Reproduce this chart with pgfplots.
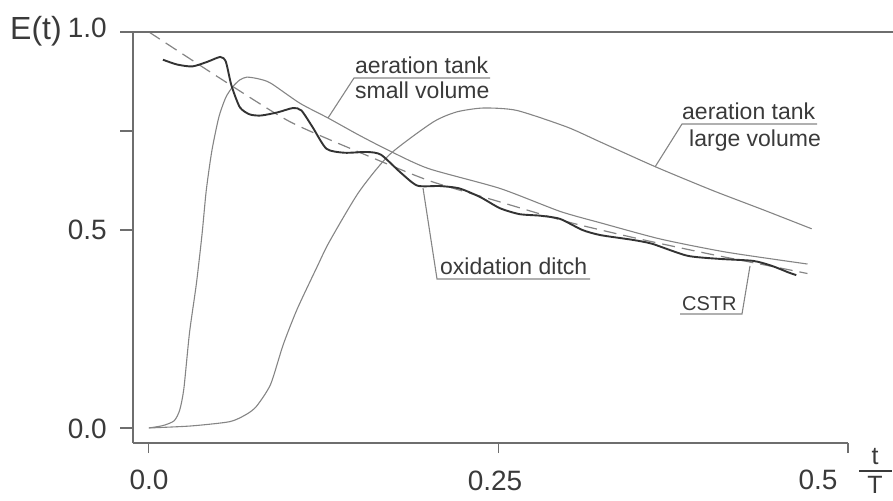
\documentclass[border=0pt]{standalone}
\usepackage{pgfplots}
\pgfplotsset{compat=1.18}
\usepackage{fontspec}
\setmainfont{Liberation Sans}
\definecolor{txtgray}{HTML}{3A3A3A}
\definecolor{framegray}{HTML}{6E6E6E}
\definecolor{curvegray}{HTML}{858585}
\definecolor{ditchgray}{HTML}{333333}
\begin{document}
\begin{tikzpicture}
\begin{axis}[
  scale only axis, width=715bp, height=411bp,
  at={(133bp,58bp)}, anchor=south west,
  xmin=-0.0114, xmax=0.5, ymin=-0.038, ymax=1.0,
  axis x line*=bottom, axis y line*=left,
  axis line style={framegray, line width=1.3bp},
  xtick={0,0.25,0.5}, ytick={0,0.5,0.75,1},
  xticklabels={}, yticklabels={},
  tick align=outside,
  xtick style={framegray, line width=1.1bp, /pgfplots/major tick length=10bp},
  ytick style={framegray, line width=1.1bp, /pgfplots/major tick length=13bp},
  clip=false,
]
% CSTR (dashed)
\addplot[color=curvegray, line width=1.2bp, dash pattern=on 13bp off 7bp, smooth, tension=0.4] coordinates {
(0,1.0) (0.05,0.885) (0.1,0.775) (0.15,0.697) (0.2,0.625) (0.25,0.572) (0.3,0.52) (0.35,0.478) (0.4,0.44) (0.45,0.405) (0.471,0.39)};
% aeration tank, large volume
\addplot[color=curvegray, line width=1.1bp, smooth, tension=0.4] coordinates {
(0,0) (0.03,0.005) (0.058,0.016) (0.07,0.035) (0.077,0.055) (0.087,0.11) (0.096,0.21) (0.106,0.30) (0.12,0.405) (0.129,0.47) (0.15,0.595) (0.172,0.69) (0.203,0.772) (0.22,0.798) (0.239,0.808) (0.263,0.802) (0.299,0.76) (0.323,0.722) (0.362,0.66) (0.403,0.60) (0.44,0.55) (0.474,0.503)};
% aeration tank, small volume
\addplot[color=curvegray, line width=1.1bp, smooth, tension=0.4] coordinates {
(0,0) (0.01,0.006) (0.018,0.018) (0.022,0.045) (0.025,0.1) (0.029,0.24) (0.034,0.366) (0.038,0.49) (0.041,0.60) (0.045,0.70) (0.05,0.785) (0.055,0.835) (0.06,0.862) (0.065,0.879) (0.07,0.886) (0.078,0.882) (0.087,0.871) (0.108,0.82) (0.128,0.783) (0.15,0.74) (0.172,0.70) (0.2,0.655) (0.251,0.605) (0.294,0.547) (0.323,0.518) (0.366,0.477) (0.413,0.444) (0.471,0.414)};
% oxidation ditch
\addplot[color=ditchgray, line width=1.9bp, smooth, tension=0.4] coordinates {
(0.01,0.93) (0.02,0.918) (0.031,0.913) (0.042,0.925) (0.051,0.937) (0.055,0.925) (0.059,0.865) (0.065,0.81) (0.072,0.792) (0.08,0.789) (0.092,0.797) (0.103,0.808) (0.109,0.802) (0.117,0.76) (0.127,0.705) (0.14,0.695) (0.156,0.697) (0.166,0.69) (0.18,0.645) (0.192,0.612) (0.208,0.611) (0.222,0.605) (0.237,0.583) (0.251,0.555) (0.265,0.54) (0.28,0.536) (0.294,0.528) (0.31,0.50) (0.323,0.487) (0.346,0.475) (0.36,0.465) (0.385,0.435) (0.408,0.427) (0.432,0.422) (0.445,0.41) (0.458,0.392) (0.463,0.386)};
\end{axis}
\begin{scope}[shift={(0,501bp)}, x=1bp, y=-1bp, color=txtgray]
  % top frame line
  \draw[framegray, line width=1.3bp] (120,32) -- (893,32);
  % tick labels
  \begin{scope}[every node/.style={inner sep=0pt, text=txtgray, font=\fontsize{28bp}{30bp}\selectfont}]
    \node[anchor=base] at (149,490) {0.0};
    \node[anchor=base] at (495,491) {0.25};
    \node[anchor=base] at (818,490) {0.5};
    \node[anchor=base east] at (107,439) {0.0};
    \node[anchor=base east] at (107,240) {0.5};
    \node[anchor=base east] at (107,38) {1.0};
  \end{scope}
  \begin{scope}[every node/.style={inner sep=0pt, text=txtgray, font=\fontsize{25bp}{27bp}\selectfont}]
    \node[anchor=base] at (875,465) {t};
    \node[anchor=base] at (875,494) {T};
  \end{scope}
  \draw[txtgray, line width=1.1bp] (859,471) -- (892,471);
  \node[anchor=base west, inner sep=0pt, text=txtgray, font=\fontsize{32bp}{34bp}\selectfont] at (10,40) {E(t)};
  % annotations
  \begin{scope}[every node/.style={inner sep=0pt, text=txtgray, font=\fontsize{23bp}{25bp}\selectfont}]
    \node[anchor=base west] at (355,74) {aeration tank};
    \node[anchor=base west] at (355,99) {small volume};
    \node[anchor=base west] at (682,120) {aeration tank};
    \node[anchor=base west] at (689,147) {large volume};
    \node[anchor=base west] at (440,275) {oxidation ditch};
    \node[anchor=base west, font=\fontsize{20bp}{22bp}\selectfont] at (682,311) {CSTR};
  \end{scope}
  \draw[curvegray, line width=1.1bp] (328,118) -- (354,78) -- (490,78);
  \draw[curvegray, line width=1.1bp] (655,167) -- (682,124) -- (817,124);
  \draw[curvegray, line width=1.1bp] (423,188) -- (437,279) -- (590,279);
  \draw[curvegray, line width=1.1bp] (750,266) -- (742,314) -- (680,314);
\end{scope}
\pgfresetboundingbox
\useasboundingbox (0,0) rectangle (893bp,501bp);
\end{tikzpicture}
\end{document}
